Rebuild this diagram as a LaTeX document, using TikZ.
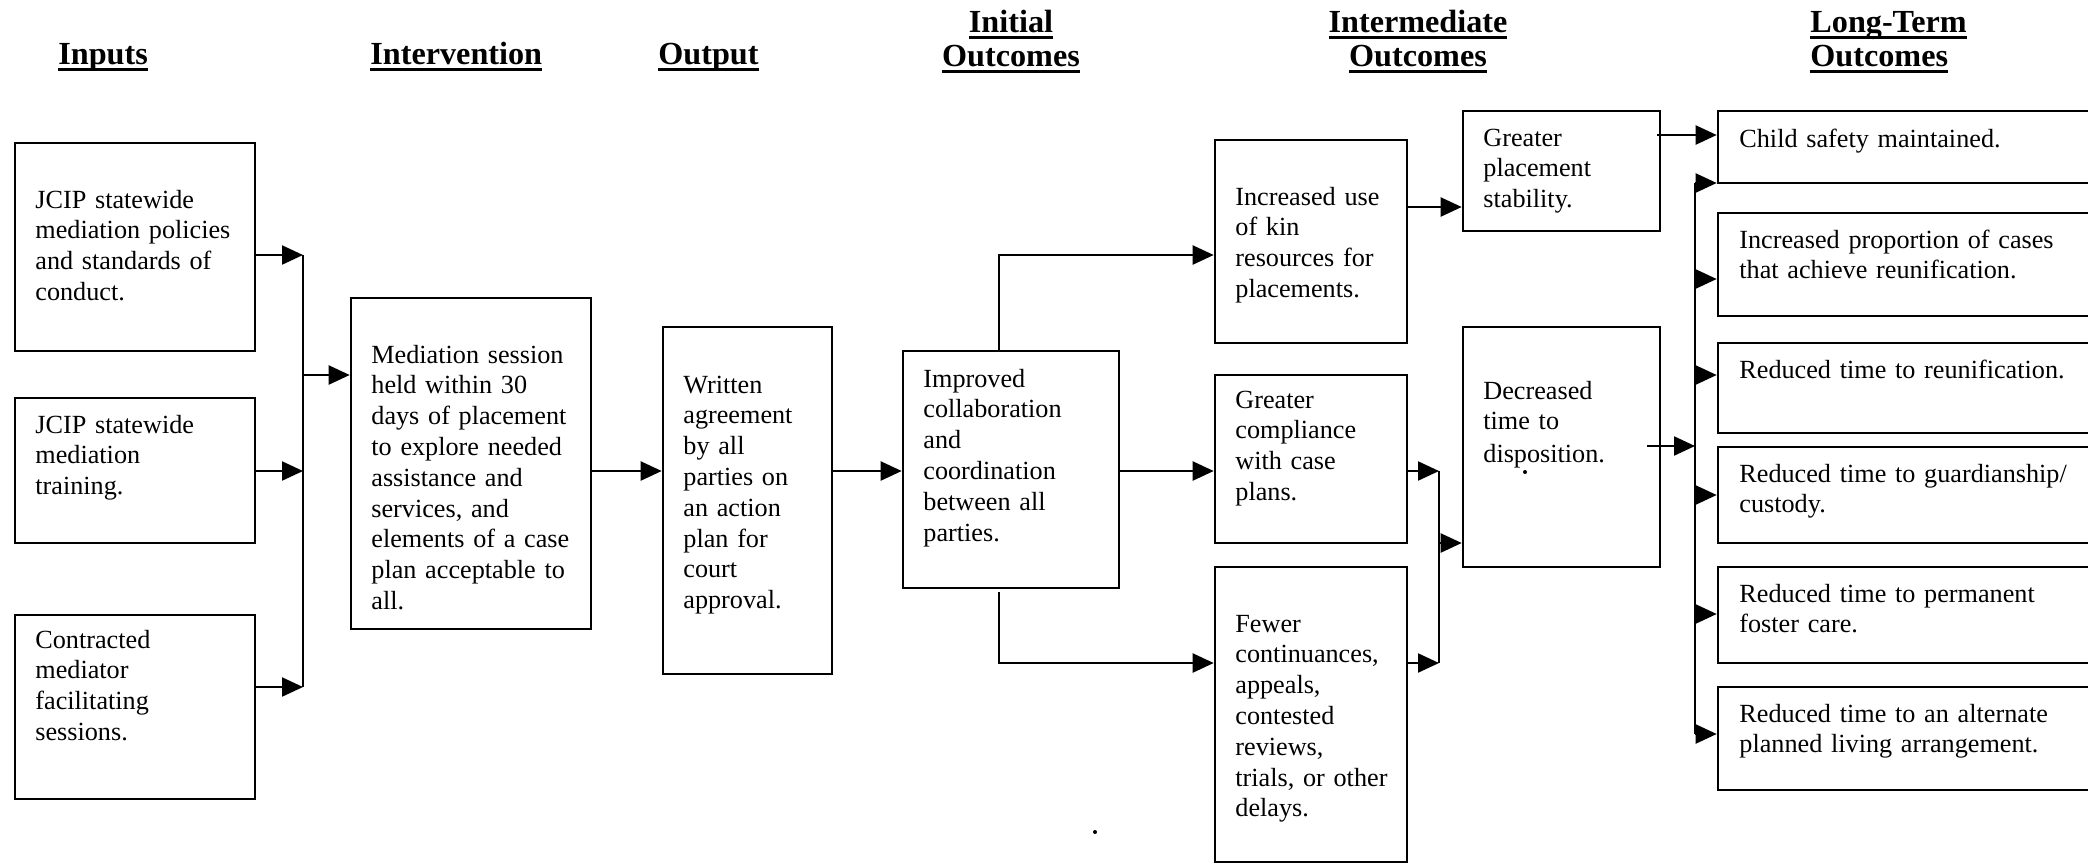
\documentclass[tikz,border=0pt]{standalone}
\usepackage{fontspec}
\setmainfont{Liberation Serif}
\usetikzlibrary{arrows.meta,fit}
% bold heading with a heavy underline
\newcommand\headul[1]{\leavevmode\setbox0\hbox{#1}\rlap{\rule[-0.23em]{\wd0}{0.12em}}\box0}
\begin{document}
\begin{tikzpicture}[x=0.5pt,y=-0.5pt,
  box/.style={draw, line width=1.3pt, inner sep=0pt},
  txt/.style={anchor=base west, inner sep=0pt, text width=200pt, align=left,
              font=\fontsize{13.1}{15.4}\selectfont},
  head/.style={inner sep=0pt, font=\bfseries\fontsize{16.1}{17}\selectfont},
  wire/.style={line width=1.1pt},
  arr/.style={line width=1.1pt, -{Triangle[length=10.5pt,width=9.5pt]}}
]
\useasboundingbox (0,0) rectangle (2088,864);
\clip (0,0) rectangle (2088,864);

% column headings
\node[head, anchor=base west] (hin) at (58,64) {\headul{Inputs}};
\node[head, anchor=base west] (hiv) at (370,64) {\headul{Intervention}};
\node[head, anchor=base west] (hout) at (658,64) {\headul{Output}};
\node[head, anchor=base, text width=150pt, align=center] (hini) at (1011,32) {\headul{Initial}\\\headul{Outcomes}};
\node[head, anchor=base, text width=150pt, align=center] (hmid) at (1418,32) {\headul{Intermediate}\\\headul{Outcomes}};
\node[head, anchor=base west, text width=150pt, align=left] (hlt) at (1810,32) {\headul{Long-Term}\\\headul{Outcomes}};

% boxes
\node[box, fit={(15,143) (255,351)}] (in1) {};
\node[box, fit={(15,398) (255,543)}] (in2) {};
\node[box, fit={(15,615) (255,799)}] (in3) {};
\node[box, fit={(351,298) (591,629)}] (intv) {};
\node[box, fit={(663,327) (832,674)}] (outp) {};
\node[box, fit={(903,351) (1119,588)}] (init) {};
\node[box, fit={(1215,140) (1407,343)}] (kin) {};
\node[box, fit={(1215,375) (1407,543)}] (comp) {};
\node[box, fit={(1215,567) (1407,862)}] (fewer) {};
\node[box, fit={(1463,111) (1660,231)}] (stab) {};
\node[box, fit={(1463,327) (1660,567)}] (decr) {};
\node[box, fit={(1718,111) (2110,183)}] (lt1) {};
\node[box, fit={(1718,213) (2110,316)}] (lt2) {};
\node[box, fit={(1718,343) (2110,433)}] (lt3) {};
\node[box, fit={(1718,447) (2110,543)}] (lt4) {};
\node[box, fit={(1718,567) (2110,663)}] (lt5) {};
\node[box, fit={(1718,687) (2110,790)}] (lt6) {};

% box texts
\node[txt] (in1t) at (35,208) {JCIP statewide\\mediation policies\\and standards of\\conduct.};
\node[txt] (in2t) at (35,433) {JCIP statewide\\mediation\\training.};
\node[txt] (in3t) at (35,648) {Contracted\\mediator\\facilitating\\sessions.};
\node[txt] (intvt) at (371,363) {Mediation session\\held within 30\\days of placement\\to explore needed\\assistance and\\services, and\\elements of a case\\plan acceptable to\\all.};
\node[txt] (outpt) at (683,393) {Written\\agreement\\by all\\parties on\\an action\\plan for\\court\\approval.};
\node[txt] (initt) at (923,387) {Improved\\collaboration\\and\\coordination\\between all\\parties.};
\node[txt] (kint) at (1235,205) {Increased use\\of kin\\resources for\\placements.};
\node[txt] (compt) at (1235,408) {Greater\\compliance\\with case\\plans.};
\node[txt] (fewert) at (1235,632) {Fewer\\continuances,\\appeals,\\contested\\reviews,\\trials, or other\\delays.};
\node[txt] (stabt) at (1483,146) {Greater\\placement\\stability.};
\node[txt] (decrt) at (1483,399) {Decreased\\time to\\[1pt]disposition.};
\node[txt] (lt1t) at (1739,147) {Child safety maintained.};
\node[txt] (lt2t) at (1739,248) {Increased proportion of cases\\that achieve reunification.};
\node[txt] (lt3t) at (1739,378) {Reduced time to reunification.};
\node[txt] (lt4t) at (1739,482) {Reduced time to guardianship/\\custody.};
\node[txt] (lt5t) at (1739,602) {Reduced time to permanent\\foster care.};
\node[txt] (lt6t) at (1739,722) {Reduced time to an alternate\\planned living arrangement.};

% inputs feed one bus into the intervention
\coordinate (b1a) at (303,255);
\coordinate (b1b) at (303,471);
\coordinate (b1c) at (303,687);
\coordinate (b1m) at (303,375);
\draw[arr] (in1.east |- b1a) -- (b1a);
\draw[arr] (in2.east |- b1b) -- (b1b);
\draw[arr] (in3.east |- b1c) -- (b1c);
\draw[wire] (b1a) -- (b1c);
\draw[arr] (b1m) -- (b1m -| intv.west);

% main chain
\coordinate (r2) at (0,471);
\draw[arr] (intv.east |- r2) -- (outp.west |- r2);
\draw[arr] (outp.east |- r2) -- (init.west |- r2);
\draw[arr] (init.east |- r2) -- (comp.west |- r2);

% initial outcome branches
\coordinate (k1) at (999,255);
\coordinate (f1) at (999,663);
\draw[arr] (init.north -| k1) -- (k1) -- (kin.west |- k1);
\draw[arr] ([yshift=-1.5pt]init.south -| f1) -- (f1) -- (fewer.west |- f1);

% kin resources to placement stability
\coordinate (ks) at (1407,207);
\draw[arr] (kin.east |- ks) -- (stab.west |- ks);

% compliance and fewer delays merge into decreased time
\coordinate (b2a) at (1439,471);
\coordinate (b2b) at (1439,663);
\coordinate (b2m) at (1439,543);
\draw[arr] (comp.east |- b2a) -- (b2a);
\draw[arr] (fewer.east |- b2b) -- (b2b);
\draw[wire] (b2a) -- (b2b);
\draw[arr] (b2m) -- (decr.west |- b2m);

% stability to child safety
\coordinate (sc) at (1657,135);
\draw[arr] (sc) -- (lt1.west |- sc);

% decreased time fans out to the long-term outcomes
\coordinate (d0) at ([xshift=-7pt]decr.east);
\coordinate (b3t) at (1695,183);
\coordinate (b3m) at (1695,446);
\coordinate (b3b) at (1695,734);
\draw[arr] (d0 |- b3m) -- (b3m);
\draw[wire] (b3t) -- (b3b);
\draw[arr] (b3t) -- (lt1.west |- b3t);
\draw[arr] (b3t |- 0,279) -- (lt2.west |- 0,279);
\draw[arr] (b3t |- 0,375) -- (lt3.west |- 0,375);
\draw[arr] (b3t |- 0,495) -- (lt4.west |- 0,495);
\draw[arr] (b3t |- 0,614) -- (lt5.west |- 0,614);
\draw[arr] (b3b) -- (lt6.west |- b3b);

% small specks
\fill (1525,472) circle (1pt);
\fill (1095,832) circle (1pt);
\end{tikzpicture}
\end{document}
